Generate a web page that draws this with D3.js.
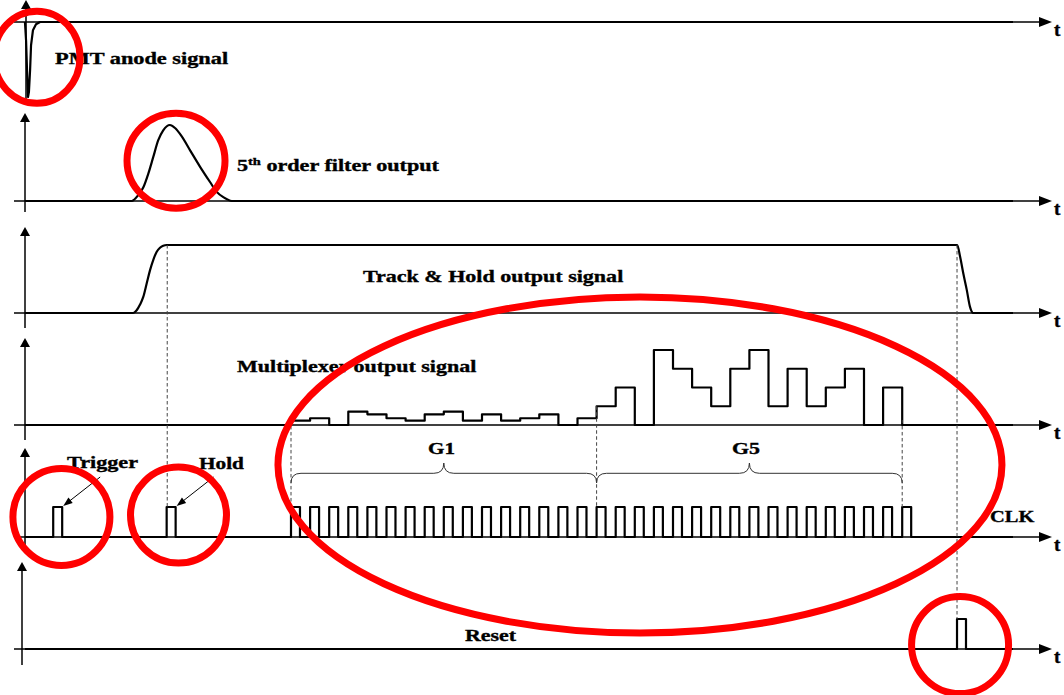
<!DOCTYPE html>
<html><head><meta charset="utf-8">
<script src="https://cdn.jsdelivr.net/npm/d3@7/dist/d3.min.js"></script>
<style>html,body{margin:0;padding:0;background:#fff;} svg{display:block;}</style>
</head><body>
<svg id="c" width="1064" height="695"></svg>
<script>
// ================= DATA =================
// time unit = one CLK period, t = 0 at the first CLK pulse
const tStart = -13.93, tEnd = 37.8;
// PMT anode signal (negative spike)
const pmtT = [-13.93,-13.87,-13.82,-13.77,-13.72,-13.66,-13.61,-13.51,-13.35,-13.14];
const pmtV = [0,-0.25,-0.65,-1.0,-0.93,-0.64,-0.31,-0.11,-0.03,0];
// 5th order filter output
const filterT = [-8.34,-7.99,-7.73,-7.47,-7.21,-6.95,-6.69,-6.34,-6.07,-5.72,-5.29,-4.76,-4.24,-3.89,-3.54,-3.10];
const filterV = [0,0.08,0.18,0.36,0.58,0.80,0.93,1.0,0.96,0.85,0.67,0.45,0.25,0.12,0.05,0];
// Track & Hold output: rise and fall
const thRiseT = [-8.26,-8.08,-7.91,-7.73,-7.55,-7.38,-7.20,-7.03,-6.86,-6.69,-6.51];
const thRiseV = [0,0.04,0.12,0.24,0.44,0.63,0.79,0.90,0.96,0.99,1.0];
const thFallT = [34.88,35.03,35.20,35.38,35.55,35.72];
const thFallV = [1,0.83,0.58,0.34,0.09,0];
// Multiplexer output levels per clock period
const muxG1 = [0.23,0.36,0,0.71,0.57,0.36,0.23,0.57,0.71,0.23,0.57,0.23,0.36,0.57,0,0.36];
const muxG5 = [1,2,0,4,3,2,1,3,4,1,3,1,2,3,0,2];
// Clock pulses (start times) and single pulses
const clkPulses = [0,1,2,3,4,5,6,7,8,9,10,11,12,13,14,15,16,17,18,19,20,21,22,23,24,25,26,27,28,29,30,31,32];
const pulseWidth = 0.47;
const triggerT = -12.45, holdT = -6.51, resetT = 34.87;
// Labels
const signalNames = ["PMT anode signal","5th order filter output","Track & Hold output signal","Multiplexer output signal","CLK","Reset"];
const groupNames = ["G1","G5"];
const groupBounds = [[0,16],[16,32]];
const markerNames = ["Trigger","Hold"];
const axisLabel = "t";

// ================= LAYOUT =================
const svg = d3.select("#c");
const x = d3.scaleLinear().domain([-14, 40]).range([23.6, 1055]);
const rows = [
  {base:22,  top:0,   bottom:103, ax:26, h:75},
  {base:201, top:113, bottom:212, ax:25, h:76},
  {base:313, top:227, bottom:328, ax:25, h:68},
  {base:425, top:338, bottom:440, ax:25, h:18.75},
  {base:537, top:448, bottom:552, ax:25, h:30},
  {base:649, top:562, bottom:665, ax:22, h:30}
];
const ys = rows.map(r => d3.scaleLinear().domain([0,1]).range([r.base, r.base - r.h]));
const FONT = "'Liberation Serif', 'Times New Roman', serif";

// ---- axes ----
const gAx = svg.append("g");
rows.forEach(r => {
  gAx.append("line").attr("x1", r.ax).attr("x2", r.ax).attr("y1", r.top + 7).attr("y2", r.bottom)
     .attr("stroke","#000").attr("stroke-width",1.5);
  gAx.append("path").attr("d", `M${r.ax},${r.top} L${r.ax-5},${r.top+9} L${r.ax+5},${r.top+9} Z`).attr("fill","#000");
  gAx.append("line").attr("x1", 14).attr("x2", 1041).attr("y1", r.base).attr("y2", r.base)
     .attr("stroke","#000").attr("stroke-width",1.5);
  gAx.append("path").attr("d", `M1052,${r.base} L1039,${r.base-5} L1039,${r.base+5} Z`).attr("fill","#000");
  gAx.append("text").attr("x",1054).attr("y", r.base + 14).text(axisLabel)
     .attr("font-family",FONT).attr("font-weight","bold").attr("font-size",19)
     .attr("stroke","#000").attr("stroke-width",0.4);
});

// ---- signals ----
const gSig = svg.append("g").attr("fill","none").attr("stroke","#000").attr("stroke-width",2.2).attr("stroke-linejoin","round");
function draw(row, pts, curve) {
  const line = d3.line().x(d => x(d[0])).y(d => ys[row](d[1])).curve(curve || d3.curveLinear);
  gSig.append("path").attr("d", line(pts));
}
draw(0, pmtT.map((t,i)=>[t,pmtV[i]]).concat([[tEnd,0]]));
draw(1, [[tStart,0]].concat(filterT.map((t,i)=>[t,filterV[i]])).concat([[tEnd,0]]), d3.curveMonotoneX);
draw(2, [[tStart,0]].concat(thRiseT.map((t,i)=>[t,thRiseV[i]])).concat(thFallT.map((t,i)=>[t,thFallV[i]])).concat([[tEnd,0]]), d3.curveMonotoneX);
const muxLevels = muxG1.concat(muxG5);
const muxPts = [[tStart,0],[0,0]];
muxLevels.forEach((v,k) => { muxPts.push([k, v]); muxPts.push([k+1, v]); });
muxPts.push([muxLevels.length, 0]); muxPts.push([tEnd, 0]);
draw(3, muxPts);
function pulses(starts) {
  const p = [[tStart,0]];
  starts.forEach(s => { p.push([s,0],[s,1],[s+pulseWidth,1],[s+pulseWidth,0]); });
  p.push([tEnd,0]);
  return p;
}
draw(4, pulses([triggerT, holdT].concat(clkPulses)));
draw(5, pulses([resetT]));

// ---- dashed guides ----
const guides = [
  {t: holdT + 0.03, r1:2, v1:1, r2:4, v2:1},
  {t: 0,  r1:3, v1:0.27, r2:4, v2:1},
  {t: 16, r1:3, v1:1, r2:4, v2:1},
  {t: 32, r1:3, v1:0.27, r2:4, v2:1},
  {t: resetT, r1:2, v1:1, r2:5, v2:1}
];
svg.append("g").selectAll("line").data(guides).join("line")
  .attr("x1", d => x(d.t)).attr("x2", d => x(d.t))
  .attr("y1", d => ys[d.r1](d.v1)).attr("y2", d => ys[d.r2](d.v2))
  .attr("stroke","#444").attr("stroke-width",1).attr("stroke-dasharray","3.5,2.5");

// ---- braces ----
const gBr = svg.append("g");
const yTip = 463, yLn = 473.3, yEnd = 483;
groupBounds.forEach(b => {
  const x0 = x(b[0]), x1 = x(b[1]), xm = (x0 + x1) / 2;
  gBr.append("path").attr("fill","none").attr("stroke","#333").attr("stroke-width",1)
    .attr("d", `M${x0},${yEnd} Q${x0},${yLn} ${x0+10},${yLn} L${xm-10},${yLn} Q${xm},${yLn} ${xm},${yTip} Q${xm},${yLn} ${xm+10},${yLn} L${x1-10},${yLn} Q${x1},${yLn} ${x1},${yEnd}`);
});

// ---- annotation arrows (Trigger / Hold) ----
const gAr = svg.append("g");
[triggerT, holdT].forEach(t => {
  const ex = x(t + pulseWidth) + 1, ey = ys[4](1) - 1;
  const sx = ex + 37, sy = ey - 29;
  const ang = Math.atan2(ey - sy, ex - sx);
  gAr.append("line").attr("x1", sx).attr("y1", sy).attr("x2", ex - 6*Math.cos(ang)).attr("y2", ey - 6*Math.sin(ang))
     .attr("stroke","#000").attr("stroke-width",1);
  const a1 = ang + Math.PI - 0.35, a2 = ang + Math.PI + 0.35, L = 10;
  gAr.append("path").attr("fill","#000")
     .attr("d", `M${ex},${ey} L${ex + L*Math.cos(a1)},${ey + L*Math.sin(a1)} L${ex + L*Math.cos(a2)},${ey + L*Math.sin(a2)} Z`);
});

// ---- text labels (stretched horizontally like the original) ----
const gTx = svg.append("g");
function label(str, xpos, base, width, size, sup) {
  const g = gTx.append("g");
  const t = g.append("text").attr("x",0).attr("y",0)
    .attr("font-family",FONT).attr("font-weight","bold")
    .attr("font-size", size).attr("fill","#000").attr("stroke","#000").attr("stroke-width",0.35);
  if (sup) {
    t.append("tspan").text(str.slice(0,1));
    t.append("tspan").attr("dy",-6).attr("font-size", size*0.65).text(str.slice(1,3));
    t.append("tspan").attr("dy",6).text(str.slice(3));
  } else t.text(str);
  const w = t.node().getBBox().width;
  g.attr("transform", `translate(${xpos},${base}) scale(${width / w},1)`);
}
label(signalNames[0], 55, 64, 174, 16);
label(signalNames[1], 237, 170.5, 203, 16, true);
label(signalNames[2], 363, 281.5, 261, 16.5);
label(signalNames[3], 237, 371.5, 240, 16.5);
label(signalNames[4], 990, 521.5, 45, 16);
label(signalNames[5], 465, 641, 52, 16);
label(markerNames[0], 67, 468, 71, 16);
label(markerNames[1], 199, 469, 45, 16);
label(groupNames[0], 428, 454, 27, 16);
label(groupNames[1], 732, 454, 28, 16);

// ---- red highlight circles ----
const rings = [
  {row:0, t:-13.30, v:-0.47, rx:43, ry:46},
  {row:1, t:-6.02,  v:0.53,  rx:49, ry:47.5},
  {row:4, t:-12.02, v:0.67,  rx:48.5, ry:48.5},
  {row:4, t:-5.89,  v:0.73,  rx:48, ry:48},
  {row:4, t:18.27,  v:2.4,   rx:362, ry:168},
  {row:5, t:35.03,  v:0.13,  rx:48.5, ry:48.5}
];
svg.append("g").selectAll("ellipse").data(rings).join("ellipse")
  .attr("cx", d => x(d.t)).attr("cy", d => ys[d.row](d.v))
  .attr("rx", d => d.rx).attr("ry", d => d.ry)
  .attr("fill","none").attr("stroke","#ff0000").attr("stroke-width",7);
</script>
</body></html>
